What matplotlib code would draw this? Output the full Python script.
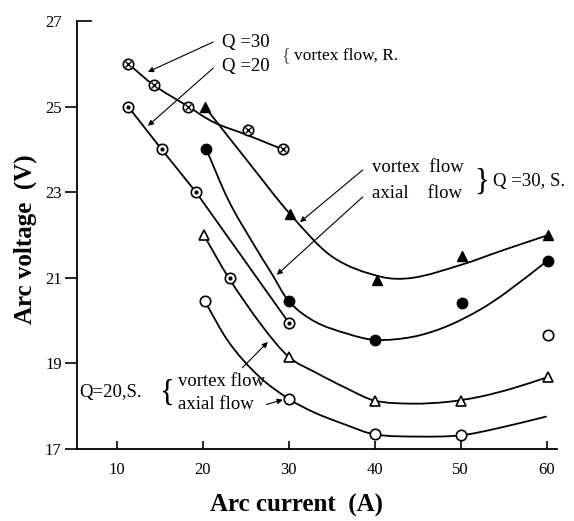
import numpy as np
import matplotlib
matplotlib.use("Agg")
import matplotlib.pyplot as plt
from matplotlib.path import Path
from matplotlib.patches import PathPatch

plt.rcParams['font.family'] = ['Liberation Serif', 'DejaVu Serif']

# measured points (arc current A, arc voltage V)
r30_x = [11.3, 14.3, 18.3, 25.2, 29.3]          # Q=30, vortex flow, R.
r30_y = [26.0, 25.5, 25.0, 24.45, 24.0]
r20_x = [11.3, 15.2, 19.2, 23.2, 30.0]          # Q=20, vortex flow, R.
r20_y = [25.0, 24.0, 23.0, 21.0, 19.95]
s30v_x = [20.2, 30.1, 40.2, 50.2, 60.2]         # Q=30, S., vortex flow
s30v_y = [25.0, 22.5, 20.95, 21.5, 22.0]
s30a_x = [20.4, 30.0, 40.0, 50.1, 60.1]         # Q=30, S., axial flow
s30a_y = [24.0, 20.45, 19.55, 20.4, 21.4]
s20v_x = [20.1, 30.0, 40.0, 50.0, 60.1]         # Q=20, S., vortex flow
s20v_y = [22.0, 19.15, 18.13, 18.13, 18.68]
s20a_x = [20.2, 30.0, 40.0, 50.0, 60.1]         # Q=20, S., axial flow
s20a_y = [20.46, 18.17, 17.34, 17.32, 19.66]

# hand-drawn trend curves
r30_cx = [11.3, 14.3, 18.3, 21.2, 25.1, 29.3]
r30_cy = [26.0, 25.5, 25.0, 24.64, 24.34, 24.0]
r20_cx = [11.3, 15.2, 19.2, 30.0]
r20_cy = [25.0, 24.0, 23.0, 19.95]
s30v_cx = [20.2, 25.5, 30.1, 35.0, 40.6, 44.4, 50.0, 55.0, 60.2]
s30v_cy = [25.0, 23.65, 22.5, 21.5, 21.03, 21.0, 21.3, 21.65, 22.0]
s30a_cx = [20.4, 23.0, 26.0, 28.0, 30.0, 33.0, 36.7, 40.0, 44.4, 48.3, 52.2, 55.3, 60.1]
s30a_cy = [24.0, 22.8, 21.75, 21.1, 20.45, 19.98, 19.70, 19.55, 19.62, 19.86, 20.25, 20.66, 21.4]
s20v_cx = [20.1, 23.0, 26.8, 30.0, 33.0, 36.7, 40.0, 44.4, 48.4, 52.2, 56.1, 60.1]
s20v_cy = [22.0, 21.0, 19.9, 19.15, 18.8, 18.42, 18.13, 18.06, 18.1, 18.22, 18.42, 18.68]
s20a_cx = [20.2, 23.0, 26.5, 30.0, 33.0, 36.7, 40.0, 45.2, 50.0, 54.2, 60.0]
s20a_cy = [20.46, 19.5, 18.7, 18.17, 17.85, 17.56, 17.34, 17.29, 17.32, 17.48, 17.76]

x_ticks = [10, 20, 30, 40, 50, 60]
y_ticks = [17, 19, 21, 23, 25, 27]


def smooth_curve(ax, xs, ys, **kw):
    # cubic Hermite through the points (slopes from neighbours), as Bezier segments
    x = np.asarray(xs, float)
    y = np.asarray(ys, float)
    n = len(x)
    m = np.empty(n)
    m[0] = (y[1] - y[0]) / (x[1] - x[0])
    m[-1] = (y[-1] - y[-2]) / (x[-1] - x[-2])
    m[1:-1] = (y[2:] - y[:-2]) / (x[2:] - x[:-2])
    verts = [(x[0], y[0])]
    codes = [Path.MOVETO]
    for i in range(n - 1):
        h = (x[i + 1] - x[i]) / 3
        verts += [(x[i] + h, y[i] + m[i] * h),
                  (x[i + 1] - h, y[i + 1] - m[i + 1] * h),
                  (x[i + 1], y[i + 1])]
        codes += [Path.CURVE4] * 3
    ax.add_patch(PathPatch(Path(verts, codes), fill=False, **kw))


fig = plt.figure(figsize=(5.74, 5.21), dpi=100)
ax = fig.add_axes([77 / 574, 1 - 449 / 521, 480 / 574, 428 / 521])

line_kw = dict(color='black', lw=1.3, zorder=2)
smooth_curve(ax, r30_cx, r30_cy, **line_kw)
ax.plot(r20_cx, r20_cy, **line_kw)
smooth_curve(ax, s30v_cx, s30v_cy, **line_kw)
smooth_curve(ax, s30a_cx, s30a_cy, **line_kw)
smooth_curve(ax, s20v_cx, s20v_cy, **line_kw)
smooth_curve(ax, s20a_cx, s20a_cy, **line_kw)

ms = 7.5
open_kw = dict(ls='none', mfc='white', mec='black', mew=1.2, zorder=3)
ax.plot(r30_x, r30_y, 'o', ms=ms, **open_kw)
ax.plot(r30_x, r30_y, 'x', ms=4.2, mew=1.0, color='black', ls='none', zorder=4)
ax.plot(r20_x, r20_y, 'o', ms=ms, **open_kw)
ax.plot(r20_x, r20_y, 'o', ms=2.0, color='black', ls='none', zorder=4)
ax.plot(s30v_x, s30v_y, '^', ms=ms, color='black', ls='none', zorder=3)
ax.plot(s30a_x, s30a_y, 'o', ms=ms, color='black', ls='none', zorder=3)
ax.plot(s20v_x, s20v_y, '^', ms=ms, **open_kw)
ax.plot(s20a_x, s20a_y, 'o', ms=ms, **open_kw)

ax.set_xlim(5.35, 61.2)
ax.set_ylim(17, 27)
ax.set_xticks(x_ticks)
ax.set_yticks(y_ticks)
for s in ['top', 'right']:
    ax.spines[s].set_visible(False)
for s in ['left', 'bottom']:
    ax.spines[s].set_linewidth(1.3)
ax.tick_params(axis='x', direction='in', length=6, width=1.2, pad=9, labelsize=12)
ax.tick_params(axis='y', direction='out', length=9, width=1.2, pad=2, labelsize=12)
ax.yaxis.get_major_ticks()[-1].tick1line.set_visible(False)
ax.plot([0, 0.03], [27, 27], color='black', lw=1.2,
        transform=ax.get_yaxis_transform(), clip_on=False)

txt = dict(fontsize=13.5, va='center', ha='left')
arrow = dict(arrowstyle='-|>', color='black', lw=0.8, mutation_scale=8,
             shrinkA=0, shrinkB=0)

# rotating-electrode group
ax.text(22.2, 26.49, 'Q =30', **txt)
ax.text(22.2, 25.93, 'Q =20', **txt)
ax.text(29.6, 26.2, '{', fontsize=13, va='center', ha='center', color='0.35')
ax.text(30.6, 26.2, 'vortex flow, R.', fontsize=12.5, va='center', ha='left')
ax.annotate('', xy=(13.6, 25.81), xytext=(21.2, 26.51), arrowprops=arrow)
ax.annotate('', xy=(13.6, 24.55), xytext=(21.2, 25.9), arrowprops=arrow)

# Q=30, S. group
ax.text(39.65, 23.57, 'vortex  flow', **txt)
ax.text(39.65, 22.96, 'axial    flow', **txt)
ax.text(52.4, 23.24, '}', fontsize=22, va='center', ha='center', fontweight='light')
ax.text(53.7, 23.24, 'Q =30, S.', **txt)
ax.annotate('', xy=(31.3, 22.3), xytext=(38.6, 23.52), arrowprops=arrow)
ax.annotate('', xy=(28.6, 21.07), xytext=(38.6, 22.89), arrowprops=arrow)

# Q=20, S. group
ax.text(5.6, 18.33, 'Q=20,S.', **txt)
ax.text(15.8, 18.31, '{', fontsize=22, va='center', ha='center')
ax.text(17.1, 18.57, 'vortex flow', **txt)
ax.text(17.1, 18.03, 'axial flow', **txt)
ax.annotate('', xy=(27.55, 19.5), xytext=(24.6, 18.9), arrowprops=arrow)
ax.annotate('', xy=(29.3, 18.15), xytext=(27.4, 18.04), arrowprops=arrow)

fig.text(296 / 574, 1 - 505 / 521, 'Arc current  (A)', fontsize=18,
         fontweight='bold', ha='center', va='center')
fig.text(25 / 574, 1 - 239 / 521, 'Arc voltage  (V)', fontsize=18,
         fontweight='bold', ha='center', va='center', rotation=90)

fig.savefig('out.png', dpi=100)
